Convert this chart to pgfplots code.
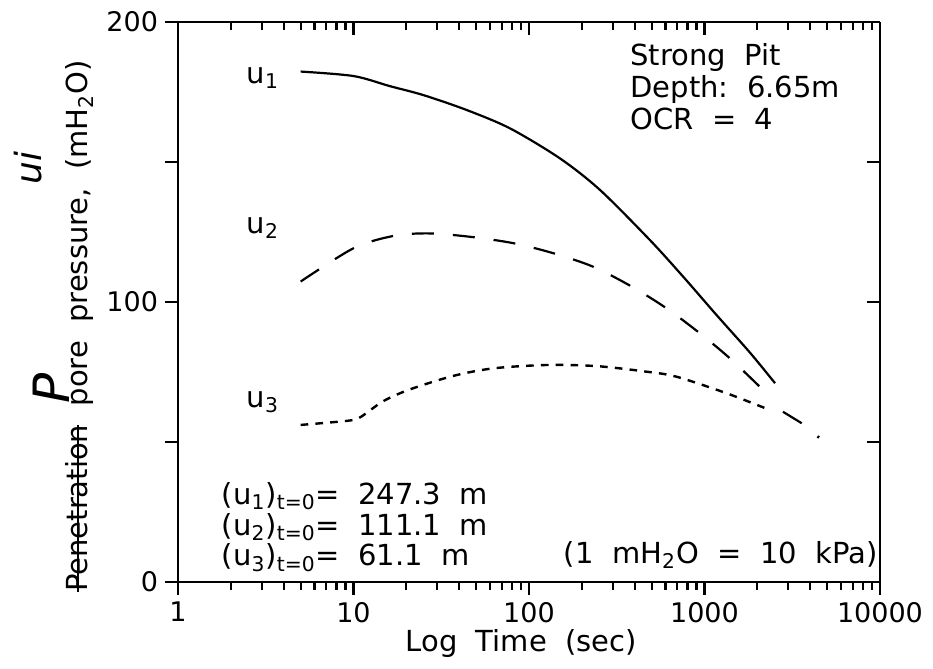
\documentclass[border=0pt]{standalone}
\usepackage{fontspec}
\setmainfont{DejaVu Sans}
\usepackage{pgfplots}
\pgfplotsset{compat=1.18}
\usetikzlibrary{calc}

\newcommand\strike[1]{\setbox0\hbox{#1}\rlap{\rule[0.30em]{\wd0}{0.9pt}}\box0}
\newcommand\txt{\fontsize{14.5}{16}\selectfont}

\begin{document}
\begin{tikzpicture}
\useasboundingbox (-89pt,-43.5pt) rectangle (377.5pt,291pt);

% top and right edges, ticks pointing in
\begin{axis}[
  scale only axis, width=351pt, height=280pt,
  xmode=log, xmin=1, xmax=10000, ymin=0, ymax=200,
  xtick={1,10,100,1000,10000},
  minor xtick={2,3,4,5,6,7,8,9,20,30,40,50,60,70,80,90,200,300,400,500,600,700,800,900,2000,3000,4000,5000,6000,7000,8000,9000},
  ytick={0,50,100,150,200},
  axis line style={line width=1.4pt, black},
  major tick style={line width=1.1pt, black},
  minor tick style={line width=1.1pt, black},
  major tick length=6.5pt, minor tick length=4pt,
  axis x line*=top, axis y line*=right, tick align=inside,
  xticklabels={}, yticklabels={},
]
\addplot[draw=none] coordinates {(1,0) (10000,200)};
\end{axis}

\begin{axis}[
  scale only axis, width=351pt, height=280pt,
  xmode=log, xmin=1, xmax=10000, ymin=0, ymax=200,
  xtick={1,10,100,1000,10000},
  minor xtick={2,3,4,5,6,7,8,9,20,30,40,50,60,70,80,90,200,300,400,500,600,700,800,900,2000,3000,4000,5000,6000,7000,8000,9000},
  ytick={0,50,100,150,200},
  axis line style={line width=1.4pt, black},
  major tick style={line width=1.1pt, black},
  minor tick style={line width=1.1pt, black},
  major tick length=6.5pt, minor tick length=4pt,
  clip=false,
  axis x line*=bottom, axis y line*=left, tick align=outside,
  xticklabels={1,10,100,1000,10000},
  yticklabels={0,,100,,200},
  ticklabel style={font=\fontsize{13.5}{14}\selectfont},
  /pgf/number format/assume math mode=true,
  xlabel={Log\ \ Time\ \ (sec)},
  xlabel style={font=\txt, at={(rel axis cs:0.489,-0.109)}, anchor=center},
]
% u1, solid
\addplot[black, line width=1.1pt, smooth] coordinates {
  (5,182.3) (10,180.7) (16.1,177.1) (25,173.9) (44,168.6) (78,162)
  (150,151.3) (254,140) (489,122.1) (757,109) (1173,95.3)
  (1817,81.9) (2523,71.0)
};
% u2, dashed
\addplot[black, line width=1.1pt, smooth, dash pattern=on 11pt off 9.5pt] coordinates {
  (5,107.3) (10,119.2) (16.9,123.6) (26.7,124.5) (46,123.3) (81.5,121)
  (138,117.4) (232,112.6) (385,105.5) (609,97.7) (942,88.8)
  (1429,79.3) (2360,66.2)
};
% u3, dotted
\addplot[black, line width=1.2pt, smooth, dash pattern=on 3.8pt off 3.6pt] coordinates {
  (5,56.1) (9.3,57.6) (10.9,58.8) (14.8,64.6) (21,68.8) (37,73.6)
  (62.6,76.3) (126,77.5) (243,77.1) (469,75.1) (694,73.3)
  (1338,67.4) (2360,61.4)
};
% tail beyond the curves
\addplot[black, line width=1.1pt] coordinates {(2800,60.8) (3580,56.7)};
\addplot[black, line width=1.3pt] coordinates {(4400,52.0) (4500,51.6)};

\node[font=\txt] at (rel axis cs:0.121,0.90) {u\textsubscript{1}};
\node[font=\txt] at (rel axis cs:0.121,0.632) {u\textsubscript{2}};
\node[font=\txt] at (rel axis cs:0.121,0.321) {u\textsubscript{3}};

\node[font=\txt, align=left, anchor=north west, inner sep=0pt] at (rel axis cs:0.644,0.962)
  {Strong\ \ Pit\\Depth:\ \ 6.65m\\OCR\ \ =\ \ 4};

\node[font=\fontsize{14.5}{15.3}\selectfont, align=left, anchor=north west, inner sep=0pt] at (rel axis cs:0.062,0.178)
  {(u\textsubscript{1})\textsubscript{t=0}=\ \ 247.3\ \ m\\
   (u\textsubscript{2})\textsubscript{t=0}=\ \ 111.1\ \ m\\
   (u\textsubscript{3})\textsubscript{t=0}=\ \ 61.1\ \ m};

\node[font=\txt, anchor=base east, inner sep=0pt] at (rel axis cs:0.997,0.033)
  {(1\ \ mH\textsubscript{2}O\ \ =\ \ 10\ \ kPa)};

% axis title, with the struck-out word and the handwritten notes
\node[font=\txt, rotate=90] at (rel axis cs:-0.1396,0.457)
  {\strike{Penetration}\ \ pore\ \ pressure,\ \ (mH\textsubscript{2}O)};
\node[font=\fontsize{25}{25}\selectfont\itshape, rotate=90] at (rel axis cs:-0.181,0.346) {P};
\node[font=\fontsize{18}{18}\selectfont\itshape, rotate=90] at (rel axis cs:-0.2137,0.739) {ui};
\end{axis}
\end{tikzpicture}
\end{document}
